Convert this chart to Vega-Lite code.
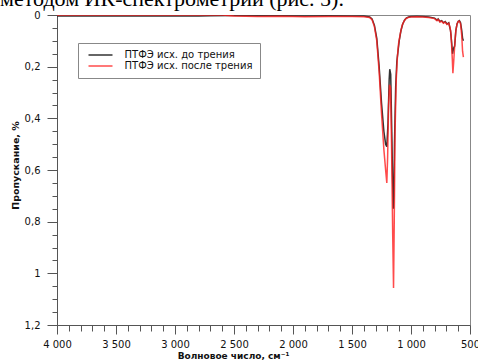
{
  "$schema": "https://vega.github.io/schema/vega-lite/v6.json",
  "autosize": {"type": "none"},
  "padding": {"left": 57, "top": 15, "right": 8, "bottom": 36},
  "width": 413,
  "height": 310,
  "background": "white",
  "title": {
    "text": "методом ИК-спектрометрии (рис. 5).",
    "anchor": "start",
    "frame": "group",
    "font": "Liberation Serif",
    "fontSize": 22,
    "fontWeight": "normal",
    "color": "#000",
    "baseline": "alphabetic",
    "offset": 2,
    "dy": 20,
    "dx": -57
  },
  "config": {
    "view": {"stroke": "#888", "strokeWidth": 1},
    "axis": {
      "domainColor": "#555",
      "tickColor": "#555",
      "labelColor": "#111",
      "labelFont": "DejaVu Sans",
      "labelFontSize": 10,
      "titleFont": "DejaVu Sans",
      "titleFontWeight": "bold",
      "titleColor": "#111",
      "grid": false,
      "labelOverlap": false,
      "labelFlush": false
    }
  },
  "data": {
    "values": [
      {"wn": 4000, "T": 0.004, "series": "ПТФЭ исх. до трения"},
      {"wn": 3800, "T": 0.004, "series": "ПТФЭ исх. до трения"},
      {"wn": 3500, "T": 0.004, "series": "ПТФЭ исх. до трения"},
      {"wn": 3200, "T": 0.004, "series": "ПТФЭ исх. до трения"},
      {"wn": 3000, "T": 0.004, "series": "ПТФЭ исх. до трения"},
      {"wn": 2800, "T": 0.004, "series": "ПТФЭ исх. до трения"},
      {"wn": 2700, "T": 0.003, "series": "ПТФЭ исх. до трения"},
      {"wn": 2500, "T": 0.002, "series": "ПТФЭ исх. до трения"},
      {"wn": 2300, "T": 0.003, "series": "ПТФЭ исх. до трения"},
      {"wn": 2100, "T": 0.003, "series": "ПТФЭ исх. до трения"},
      {"wn": 1900, "T": 0.004, "series": "ПТФЭ исх. до трения"},
      {"wn": 1700, "T": 0.003, "series": "ПТФЭ исх. до трения"},
      {"wn": 1500, "T": 0.004, "series": "ПТФЭ исх. до трения"},
      {"wn": 1400, "T": 0.004, "series": "ПТФЭ исх. до трения"},
      {"wn": 1350, "T": 0.008, "series": "ПТФЭ исх. до трения"},
      {"wn": 1330, "T": 0.015, "series": "ПТФЭ исх. до трения"},
      {"wn": 1310, "T": 0.04, "series": "ПТФЭ исх. до трения"},
      {"wn": 1290, "T": 0.09, "series": "ПТФЭ исх. до трения"},
      {"wn": 1270, "T": 0.2, "series": "ПТФЭ исх. до трения"},
      {"wn": 1250, "T": 0.34, "series": "ПТФЭ исх. до трения"},
      {"wn": 1230, "T": 0.45, "series": "ПТФЭ исх. до трения"},
      {"wn": 1215, "T": 0.5, "series": "ПТФЭ исх. до трения"},
      {"wn": 1205, "T": 0.51, "series": "ПТФЭ исх. до трения"},
      {"wn": 1195, "T": 0.42, "series": "ПТФЭ исх. до трения"},
      {"wn": 1185, "T": 0.25, "series": "ПТФЭ исх. до трения"},
      {"wn": 1180, "T": 0.21, "series": "ПТФЭ исх. до трения"},
      {"wn": 1172, "T": 0.23, "series": "ПТФЭ исх. до трения"},
      {"wn": 1165, "T": 0.4, "series": "ПТФЭ исх. до трения"},
      {"wn": 1155, "T": 0.65, "series": "ПТФЭ исх. до трения"},
      {"wn": 1150, "T": 0.75, "series": "ПТФЭ исх. до трения"},
      {"wn": 1145, "T": 0.7, "series": "ПТФЭ исх. до трения"},
      {"wn": 1140, "T": 0.5, "series": "ПТФЭ исх. до трения"},
      {"wn": 1130, "T": 0.28, "series": "ПТФЭ исх. до трения"},
      {"wn": 1120, "T": 0.18, "series": "ПТФЭ исх. до трения"},
      {"wn": 1110, "T": 0.14, "series": "ПТФЭ исх. до трения"},
      {"wn": 1100, "T": 0.1, "series": "ПТФЭ исх. до трения"},
      {"wn": 1085, "T": 0.06, "series": "ПТФЭ исх. до трения"},
      {"wn": 1070, "T": 0.035, "series": "ПТФЭ исх. до трения"},
      {"wn": 1055, "T": 0.02, "series": "ПТФЭ исх. до трения"},
      {"wn": 1040, "T": 0.012, "series": "ПТФЭ исх. до трения"},
      {"wn": 1020, "T": 0.008, "series": "ПТФЭ исх. до трения"},
      {"wn": 1000, "T": 0.006, "series": "ПТФЭ исх. до трения"},
      {"wn": 950, "T": 0.005, "series": "ПТФЭ исх. до трения"},
      {"wn": 900, "T": 0.006, "series": "ПТФЭ исх. до трения"},
      {"wn": 850, "T": 0.008, "series": "ПТФЭ исх. до трения"},
      {"wn": 800, "T": 0.012, "series": "ПТФЭ исх. до трения"},
      {"wn": 780, "T": 0.02, "series": "ПТФЭ исх. до трения"},
      {"wn": 770, "T": 0.015, "series": "ПТФЭ исх. до трения"},
      {"wn": 755, "T": 0.025, "series": "ПТФЭ исх. до трения"},
      {"wn": 740, "T": 0.022, "series": "ПТФЭ исх. до трения"},
      {"wn": 725, "T": 0.03, "series": "ПТФЭ исх. до трения"},
      {"wn": 710, "T": 0.025, "series": "ПТФЭ исх. до трения"},
      {"wn": 695, "T": 0.035, "series": "ПТФЭ исх. до трения"},
      {"wn": 680, "T": 0.03, "series": "ПТФЭ исх. до трения"},
      {"wn": 665, "T": 0.06, "series": "ПТФЭ исх. до трения"},
      {"wn": 655, "T": 0.11, "series": "ПТФЭ исх. до трения"},
      {"wn": 648, "T": 0.15, "series": "ПТФЭ исх. до трения"},
      {"wn": 640, "T": 0.13, "series": "ПТФЭ исх. до трения"},
      {"wn": 630, "T": 0.12, "series": "ПТФЭ исх. до трения"},
      {"wn": 620, "T": 0.06, "series": "ПТФЭ исх. до трения"},
      {"wn": 610, "T": 0.035, "series": "ПТФЭ исх. до трения"},
      {"wn": 600, "T": 0.025, "series": "ПТФЭ исх. до трения"},
      {"wn": 590, "T": 0.022, "series": "ПТФЭ исх. до трения"},
      {"wn": 580, "T": 0.03, "series": "ПТФЭ исх. до трения"},
      {"wn": 570, "T": 0.06, "series": "ПТФЭ исх. до трения"},
      {"wn": 563, "T": 0.09, "series": "ПТФЭ исх. до трения"},
      {"wn": 556, "T": 0.1, "series": "ПТФЭ исх. до трения"},
      {"wn": 4000, "T": 0.0, "series": "ПТФЭ исх. после трения"},
      {"wn": 3500, "T": 0.0, "series": "ПТФЭ исх. после трения"},
      {"wn": 3000, "T": 0.0, "series": "ПТФЭ исх. после трения"},
      {"wn": 2600, "T": 0.0, "series": "ПТФЭ исх. после трения"},
      {"wn": 2500, "T": 0.004, "series": "ПТФЭ исх. после трения"},
      {"wn": 2300, "T": 0.006, "series": "ПТФЭ исх. после трения"},
      {"wn": 2100, "T": 0.005, "series": "ПТФЭ исх. после трения"},
      {"wn": 1900, "T": 0.007, "series": "ПТФЭ исх. после трения"},
      {"wn": 1700, "T": 0.006, "series": "ПТФЭ исх. после трения"},
      {"wn": 1500, "T": 0.006, "series": "ПТФЭ исх. после трения"},
      {"wn": 1400, "T": 0.007, "series": "ПТФЭ исх. после трения"},
      {"wn": 1350, "T": 0.01, "series": "ПТФЭ исх. после трения"},
      {"wn": 1330, "T": 0.018, "series": "ПТФЭ исх. после трения"},
      {"wn": 1310, "T": 0.045, "series": "ПТФЭ исх. после трения"},
      {"wn": 1290, "T": 0.1, "series": "ПТФЭ исх. после трения"},
      {"wn": 1270, "T": 0.22, "series": "ПТФЭ исх. после трения"},
      {"wn": 1250, "T": 0.38, "series": "ПТФЭ исх. после трения"},
      {"wn": 1230, "T": 0.52, "series": "ПТФЭ исх. после трения"},
      {"wn": 1215, "T": 0.6, "series": "ПТФЭ исх. после трения"},
      {"wn": 1205, "T": 0.65, "series": "ПТФЭ исх. после трения"},
      {"wn": 1198, "T": 0.55, "series": "ПТФЭ исх. после трения"},
      {"wn": 1190, "T": 0.35, "series": "ПТФЭ исх. после трения"},
      {"wn": 1182, "T": 0.27, "series": "ПТФЭ исх. после трения"},
      {"wn": 1174, "T": 0.28, "series": "ПТФЭ исх. после трения"},
      {"wn": 1165, "T": 0.5, "series": "ПТФЭ исх. после трения"},
      {"wn": 1155, "T": 0.85, "series": "ПТФЭ исх. после трения"},
      {"wn": 1148, "T": 1.057, "series": "ПТФЭ исх. после трения"},
      {"wn": 1142, "T": 0.8, "series": "ПТФЭ исх. после трения"},
      {"wn": 1135, "T": 0.45, "series": "ПТФЭ исх. после трения"},
      {"wn": 1125, "T": 0.25, "series": "ПТФЭ исх. после трения"},
      {"wn": 1115, "T": 0.16, "series": "ПТФЭ исх. после трения"},
      {"wn": 1105, "T": 0.11, "series": "ПТФЭ исх. после трения"},
      {"wn": 1090, "T": 0.07, "series": "ПТФЭ исх. после трения"},
      {"wn": 1075, "T": 0.04, "series": "ПТФЭ исх. после трения"},
      {"wn": 1060, "T": 0.025, "series": "ПТФЭ исх. после трения"},
      {"wn": 1045, "T": 0.015, "series": "ПТФЭ исх. после трения"},
      {"wn": 1025, "T": 0.01, "series": "ПТФЭ исх. после трения"},
      {"wn": 1000, "T": 0.008, "series": "ПТФЭ исх. после трения"},
      {"wn": 950, "T": 0.007, "series": "ПТФЭ исх. после трения"},
      {"wn": 900, "T": 0.008, "series": "ПТФЭ исх. после трения"},
      {"wn": 850, "T": 0.01, "series": "ПТФЭ исх. после трения"},
      {"wn": 800, "T": 0.014, "series": "ПТФЭ исх. после трения"},
      {"wn": 780, "T": 0.022, "series": "ПТФЭ исх. после трения"},
      {"wn": 770, "T": 0.017, "series": "ПТФЭ исх. после трения"},
      {"wn": 755, "T": 0.027, "series": "ПТФЭ исх. после трения"},
      {"wn": 740, "T": 0.024, "series": "ПТФЭ исх. после трения"},
      {"wn": 725, "T": 0.032, "series": "ПТФЭ исх. после трения"},
      {"wn": 710, "T": 0.027, "series": "ПТФЭ исх. после трения"},
      {"wn": 695, "T": 0.037, "series": "ПТФЭ исх. после трения"},
      {"wn": 680, "T": 0.032, "series": "ПТФЭ исх. после трения"},
      {"wn": 668, "T": 0.05, "series": "ПТФЭ исх. после трения"},
      {"wn": 660, "T": 0.08, "series": "ПТФЭ исх. после трения"},
      {"wn": 650, "T": 0.17, "series": "ПТФЭ исх. после трения"},
      {"wn": 645, "T": 0.225, "series": "ПТФЭ исх. после трения"},
      {"wn": 638, "T": 0.18, "series": "ПТФЭ исх. после трения"},
      {"wn": 630, "T": 0.12, "series": "ПТФЭ исх. после трения"},
      {"wn": 620, "T": 0.06, "series": "ПТФЭ исх. после трения"},
      {"wn": 610, "T": 0.035, "series": "ПТФЭ исх. после трения"},
      {"wn": 600, "T": 0.025, "series": "ПТФЭ исх. после трения"},
      {"wn": 590, "T": 0.024, "series": "ПТФЭ исх. после трения"},
      {"wn": 580, "T": 0.035, "series": "ПТФЭ исх. после трения"},
      {"wn": 570, "T": 0.08, "series": "ПТФЭ исх. после трения"},
      {"wn": 563, "T": 0.14, "series": "ПТФЭ исх. после трения"},
      {"wn": 556, "T": 0.163, "series": "ПТФЭ исх. после трения"}
    ]
  },
  "mark": {"type": "line", "strokeWidth": 1.5, "clip": true},
  "encoding": {
    "x": {
      "field": "wn",
      "type": "quantitative",
      "scale": {"domain": [500, 4000], "reverse": true, "nice": false, "zero": false},
      "axis": {
        "values": [4000, 3900, 3800, 3700, 3600, 3500, 3400, 3300, 3200, 3100, 3000, 2900, 2800, 2700, 2600, 2500, 2400, 2300, 2200, 2100, 2000, 1900, 1800, 1700, 1600, 1500, 1400, 1300, 1200, 1100, 1000, 900, 800, 700, 600, 500],
        "labelExpr": "datum.value % 500 === 0 ? replace(format(datum.value, ','), ',', ' ') : ''",
        "tickSize": {"condition": {"test": "datum.value % 500 === 0", "value": 9}, "value": 6},
        "labelPadding": 5,
        "title": "Волновое число, см⁻¹",
        "titleFontSize": 9,
        "titleX": 176,
        "titleY": 30,
        "titleAnchor": "middle",
        "titleBaseline": "middle"
      }
    },
    "y": {
      "field": "T",
      "type": "quantitative",
      "scale": {"domain": [0, 1.2], "reverse": true, "nice": false},
      "axis": {
        "values": [0, 0.05, 0.1, 0.15, 0.2, 0.25, 0.3, 0.35, 0.4, 0.45, 0.5, 0.55, 0.6, 0.65, 0.7, 0.75, 0.8, 0.85, 0.9, 0.95, 1, 1.05, 1.1, 1.15, 1.2],
        "labelExpr": "round(datum.value * 100) % 20 === 0 ? replace(format(datum.value, '.1~f'), '.', ',') : ''",
        "tickSize": {"condition": {"test": "round(datum.value * 100) % 20 === 0", "value": 10}, "value": 5},
        "labelPadding": 7,
        "title": "Пропускание, %",
        "titleFontSize": 9.5,
        "titleX": -42,
        "titleY": 150,
        "titleAnchor": "middle",
        "titleBaseline": "middle",
        "titleAngle": 270
      }
    },
    "color": {
      "field": "series",
      "type": "nominal",
      "scale": {
        "domain": ["ПТФЭ исх. до трения", "ПТФЭ исх. после трения"],
        "range": ["#333333", "rgba(255,30,30,0.8)"]
      },
      "legend": {
        "title": null,
        "orient": "none",
        "legendX": 21,
        "legendY": 28,
        "strokeColor": "#888",
        "fillColor": "white",
        "padding": 7,
        "symbolType": "M-3,0H3",
        "symbolSize": 64,
        "symbolOffset": 10.5,
        "symbolStrokeWidth": 1.5,
        "labelOffset": 19,
        "labelFont": "DejaVu Sans",
        "labelFontSize": 10,
        "labelColor": "#111",
        "rowPadding": 1,
        "labelLimit": 300
      }
    }
  }
}
